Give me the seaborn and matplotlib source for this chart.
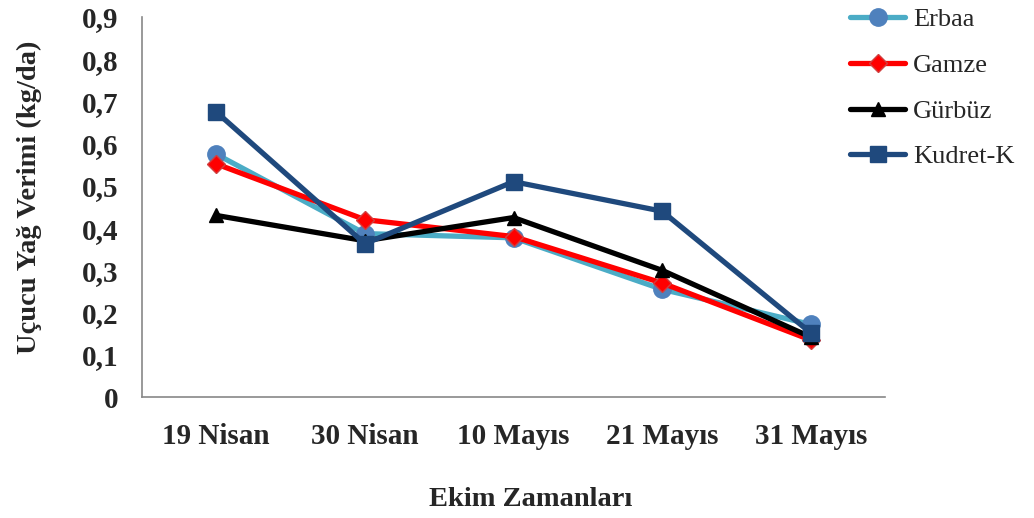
import matplotlib
matplotlib.use("Agg")
import matplotlib.pyplot as plt
import seaborn as sns
import pandas as pd
from matplotlib.ticker import FuncFormatter, MultipleLocator, FixedLocator

dates = ["19 Nisan", "30 Nisan", "10 Mayıs", "21 Mayıs", "31 Mayıs"]
erbaa = [0.575, 0.387, 0.377, 0.255, 0.172]
gamze = [0.552, 0.420, 0.380, 0.270, 0.135]
gurbuz = [0.430, 0.370, 0.425, 0.300, 0.142]
kudret = [0.675, 0.363, 0.510, 0.440, 0.152]
series_names = ["Erbaa", "Gamze", "Gürbüz", "Kudret-K"]
series_values = [erbaa, gamze, gurbuz, kudret]

sns.set_style("white")
plt.rcParams["font.family"] = ["Liberation Serif", "DejaVu Serif"]

fig = plt.figure(figsize=(10.34, 5.18), dpi=100)
ax = fig.add_axes([142 / 1034, 1 - 397 / 518, 743 / 1034, 380 / 518])

styles = {
    "Erbaa": dict(color="#4BACC6", marker="o", mfc="#4F81BD", mec="#4F81BD", ms=12.5),
    "Gamze": dict(color="#FF0000", marker="D", mfc="#FF0000", mec="#D04040", ms=9),
    "Gürbüz": dict(color="#000000", marker="^", mfc="#000000", mec="#000000", ms=10.5),
    "Kudret-K": dict(color="#1F497D", marker="s", mfc="#1F497D", mec="#1F497D", ms=12),
}

for name, vals in zip(series_names, series_values):
    df = pd.DataFrame({"x": range(len(dates)), "y": vals})
    st = styles[name]
    sns.lineplot(data=df, x="x", y="y", ax=ax, color=st["color"], linewidth=3.8,
                 marker=st["marker"], markerfacecolor=st["mfc"], markeredgecolor=st["mec"],
                 markeredgewidth=1, markersize=st["ms"], label=name)

ax.set_xlim(-0.5, len(dates) - 0.5)
ax.set_ylim(0, 0.9)
ax.yaxis.set_major_locator(MultipleLocator(0.1))
ax.yaxis.set_major_formatter(FuncFormatter(lambda v, p: "0" if abs(v) < 1e-9 else f"{v:.1f}".replace(".", ",")))

ax.xaxis.set_major_locator(FixedLocator([i - 0.5 for i in range(len(dates) + 1)]))
ax.xaxis.set_major_formatter(FuncFormatter(lambda v, p: ""))
ax.set_xticks(range(len(dates)), minor=True)
ax.set_xticklabels(dates, minor=True)

for lab in ax.get_xticklabels(minor=True) + ax.get_yticklabels():
    lab.set_fontweight("bold")
    lab.set_fontsize(21)
ax.tick_params(axis="x", which="minor", length=0, pad=19)
ax.tick_params(axis="x", which="major", length=5, direction="out", color="#888888", width=1.0)
ax.tick_params(axis="y", which="major", length=6, direction="out", color="#888888", width=1.0, pad=11)

for s in ["top", "right"]:
    ax.spines[s].set_visible(False)
for s in ["left", "bottom"]:
    ax.spines[s].set_color("#888888")
    ax.spines[s].set_linewidth(1.2)

ax.set_xlabel("Ekim Zamanları", fontsize=20.5, fontweight="bold")
ax.xaxis.set_label_coords((531 - 142) / 743, (397 - 487) / 380)
ax.set_ylabel("Uçucu Yağ Verimi (kg/da)", fontsize=20.5, fontweight="bold")
ax.yaxis.set_label_coords((42 - 142) / 743, (397 - 197) / 380)

leg = ax.legend(loc="upper left", bbox_to_anchor=(850 / 1034, 1 - 8 / 518), bbox_transform=fig.transFigure,
                frameon=False, fontsize=19, handlelength=2.1, labelspacing=0.84,
                handletextpad=0.3, borderpad=0, borderaxespad=0)

fig.savefig("out.png", dpi=100)
